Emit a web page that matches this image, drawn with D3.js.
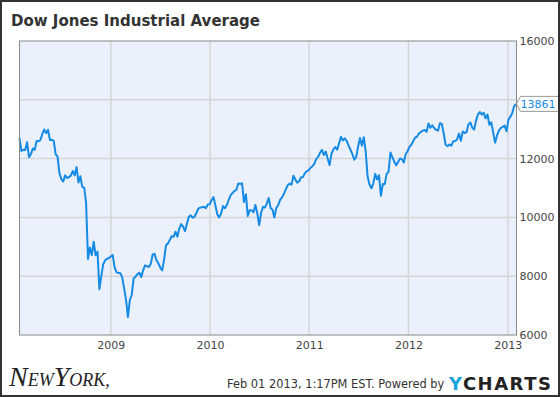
<!DOCTYPE html>
<html>
<head>
<meta charset="utf-8">
<script src="https://cdn.jsdelivr.net/npm/d3@7"></script>
<style>
  body { margin: 0; background: #fff; }
  svg { display: block; font-family: "DejaVu Sans", sans-serif; }
</style>
</head>
<body>
<svg id="chart"></svg>
<script>
// Weekly (Thursday) closes of the Dow
const firstWeek = "2008-01-31";
const lastWeek = "2013-01-31";
const closes = [
  12700, 12260, 12300, 12290, 12560, 12050, 12150, 12340, 12300, 12600,
  12590, 12630, 12840, 12990, 12866, 12980, 12630, 12640, 12600, 12150,
  12065, 11500, 11300, 11220, 11430, 11340, 11370, 11420, 11580, 11430,
  11710, 11190, 11400, 11030, 11020, 10500, 8585, 8980, 8720, 9175,
  8710, 8835, 7552, 8000, 8400, 8540, 8590, 8620, 8670, 8720,
  8300, 8130, 8120, 8100, 7962, 7588, 7200, 6610, 7190, 7360,
  7928, 7983, 8070, 8119, 7970, 8200, 8370, 8340, 8310, 8420,
  8740, 8760, 8540, 8440, 8290, 8200, 8560, 9050, 9110, 9230,
  9360, 9340, 9514, 9344, 9620, 9770, 9690, 9530, 9780, 10020,
  10070, 9990, 10020, 10150, 10300, 10335, 10343, 10360, 10315, 10440,
  10450, 10590, 10690, 10400, 10100, 10002, 10140, 10387, 10310, 10420,
  10600, 10760, 10830, 10900, 10930, 11150, 11140, 11160, 10520, 10790,
  10050, 10240, 10240, 10170, 10420, 10140, 9740, 10150, 10360, 10330,
  10470, 10660, 10320, 10260, 10000, 10320, 10420, 10595, 10680, 10800,
  10950, 11096, 11150, 11115, 11420, 11290, 11180, 11230, 11362, 11370,
  11500, 11573, 11600, 11690, 11740, 11830, 11990, 12060, 12200, 12300,
  12120, 12240, 12000, 11780, 12170, 12310, 12390, 12300, 12520, 12740,
  12620, 12690, 12606, 12440, 12300, 12150, 11962, 12055, 12414, 12700,
  12437, 12724, 12240, 11384, 11120, 10990, 11160, 11480, 11290, 11433,
  10734, 11140, 11130, 11479, 11550, 12209, 12045, 11900, 11771, 11880,
  12000, 11990, 11870, 12150, 12250, 12400, 12470, 12600, 12720, 12740,
  12860, 12904, 12950, 12975, 12910, 13194, 13050, 13130, 13040, 12975,
  12950, 13205, 13180, 12855, 12470, 12420, 12480, 12440, 12590, 12600,
  12650, 12850, 12604, 12920, 12870, 12900, 13165, 13230, 13050, 12990,
  13292, 13500, 13580, 13500, 13560, 13370, 13500, 13150, 13232, 12890,
  12542, 12780, 12950, 13040, 13080, 13120, 12930, 13320, 13420, 13540,
  13780, 13861
];
const yTicks = [6000, 8000, 10000, 12000, 14000, 16000];
const yLabels = [6000, 8000, 10000, 12000, 16000];   // 14000 sits under the flag
const xTicks = ["2009-01-01", "2010-01-01", "2011-01-01", "2012-01-01", "2013-01-01"];
const lastLabel = "13861";

const width = 560, height = 397;
const plot = { left: 19.5, right: 516.5, top: 41, bottom: 335 };
const blue = "#168be6";

const parse = d3.timeParse("%Y-%m-%d");
const weeks = d3.timeThursday.range(parse(firstWeek), d3.timeDay.offset(parse(lastWeek), 1));
const data = weeks.map((d, i) => ({ date: d, value: closes[i] }));

let svg = d3.select("#chart")
    .attr("width", width)
    .attr("height", height);

let x = d3.scaleTime()
    .domain([parse(firstWeek), parse(lastWeek)])
    .range([plot.left, plot.right - 0.5]);

let y = d3.scaleLinear()
    .domain([6000, 16000])
    .range([plot.bottom, plot.top]);

// title
svg.append("text")
    .attr("x", 11)
    .attr("y", 26)
    .attr("font-size", 15)
    .attr("font-weight", "bold")
    .attr("fill", "#333")
    .text("Dow Jones Industrial Average");

// plot background
svg.append("rect")
    .attr("x", plot.left)
    .attr("y", plot.top)
    .attr("width", plot.right - plot.left)
    .attr("height", plot.bottom - plot.top)
    .attr("fill", "#ebf1fc");

// grid
svg.append("g").selectAll("line")
    .data(yTicks.slice(1, -1))
    .enter().append("line")
    .attr("x1", plot.left).attr("x2", plot.right)
    .attr("y1", d => y(d)).attr("y2", d => y(d))
    .attr("stroke", "#d5d5d5").attr("stroke-width", 1.5);

svg.append("g").selectAll("line")
    .data(xTicks.map(parse))
    .enter().append("line")
    .attr("x1", d => x(d)).attr("x2", d => x(d))
    .attr("y1", plot.top).attr("y2", plot.bottom)
    .attr("stroke", "#d5d5d5").attr("stroke-width", 1.5);

// the line
let line = d3.line()
    .x(d => x(d.date))
    .y(d => y(d.value));

svg.append("path")
    .datum(data)
    .attr("d", line)
    .attr("fill", "none")
    .attr("stroke", blue)
    .attr("stroke-width", 2)
    .attr("stroke-linejoin", "round");

// plot frame
svg.append("rect")
    .attr("x", plot.left)
    .attr("y", plot.top)
    .attr("width", plot.right - plot.left)
    .attr("height", plot.bottom - plot.top)
    .attr("fill", "none")
    .attr("stroke", "#888")
    .attr("stroke-width", 1);

// axes
let yAxis = svg.append("g")
    .attr("transform", `translate(${plot.right}, 0)`)
    .call(d3.axisRight(y).tickValues(yLabels).tickSize(0).tickPadding(3).tickFormat(d3.format("d")));

let xAxis = svg.append("g")
    .attr("transform", `translate(0, ${plot.bottom})`)
    .call(d3.axisBottom(x).tickValues(xTicks.map(parse)).tickSize(0).tickPadding(6).tickFormat(d3.timeFormat("%Y")));

[yAxis, xAxis].forEach(a => {
    a.select(".domain").remove();
    a.selectAll("text")
        .attr("font-family", "DejaVu Sans")
        .attr("font-size", 11)
        .attr("fill", "#444");
});

// last value flag
let lastY = y(+lastLabel);
svg.append("path")
    .attr("d", `M${plot.right},${lastY} L${plot.right + 4},${lastY - 7.5} L562,${lastY - 7.5} L562,${lastY + 7.5} L${plot.right + 4},${lastY + 7.5} Z`)
    .attr("fill", "#fff")
    .attr("stroke", "#999")
    .attr("stroke-width", 1);

svg.append("text")
    .attr("x", plot.right + 4)
    .attr("y", lastY)
    .attr("dy", "0.35em")
    .attr("font-size", 11)
    .attr("fill", blue)
    .text(lastLabel);

// footer
let logo = svg.append("text")
    .attr("x", 9)
    .attr("y", 386)
    .attr("font-family", "Liberation Serif, DejaVu Serif, serif")
    .attr("font-style", "italic")
    .attr("fill", "#222");
logo.append("tspan").attr("font-size", 28).text("N");
logo.append("tspan").attr("font-size", 18).text("EW");
logo.append("tspan").attr("font-size", 28).text("Y");
logo.append("tspan").attr("font-size", 18).text("ORK,");

svg.append("text")
    .attr("x", 227)
    .attr("y", 388)
    .attr("font-size", 11.4)
    .attr("fill", "#333")
    .text("Feb 01 2013, 1:17PM EST. Powered by");

let brand = svg.append("text")
    .attr("x", 449)
    .attr("y", 390)
    .attr("font-size", 18)
    .attr("font-weight", "bold")
    .attr("letter-spacing", 1.5)
    .attr("fill", "#222");
brand.append("tspan").attr("fill", "#1aa3e0").text("Y");
brand.append("tspan").text("CHARTS");

// outer frame
svg.append("rect")
    .attr("x", 1)
    .attr("y", 1)
    .attr("width", width - 2)
    .attr("height", height - 2)
    .attr("fill", "none")
    .attr("stroke", "#333")
    .attr("stroke-width", 2);
</script>
</body>
</html>
